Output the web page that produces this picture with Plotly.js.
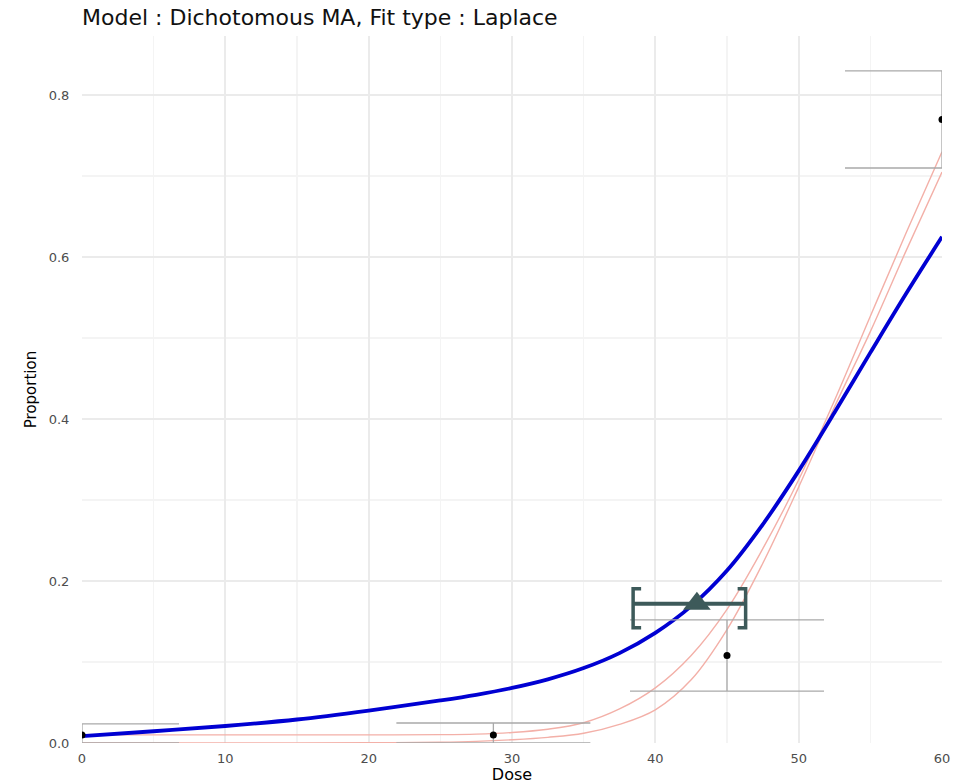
<!DOCTYPE html>
<html>
<head>
<meta charset="utf-8">
<script src="https://cdn.plot.ly/plotly-3.0.1.min.js"></script>
<style>
  html, body { margin: 0; padding: 0; background: #ffffff; }
  #chart { width: 956px; height: 784px; }
</style>
</head>
<body>
<div id="chart"></div>
<script>
// Observed dose groups: proportion responding with confidence limits
const doses    = [0, 28.7, 45, 60];
const observed = [0.010, 0.010, 0.108, 0.770];
const ciLower  = [0.000, 0.000, 0.064, 0.710];
const ciUpper  = [0.0235, 0.0247, 0.152, 0.830];

// Dose grid for the fitted curves
const curveDose = [0, 5, 10, 15, 20, 25, 27.5, 30, 32.5, 35, 37.5, 40, 42.5, 45, 47.5, 50, 52.5, 55, 57.5, 60];

// Model-averaged response
const maResponse = [0.0085, 0.0145, 0.021, 0.029, 0.040, 0.0525, 0.0595, 0.068, 0.0786, 0.0925, 0.111, 0.136, 0.169, 0.213, 0.270, 0.336, 0.408, 0.482, 0.555, 0.625];

// Individual candidate model fits
const modelA = [0.010, 0.010, 0.010, 0.010, 0.010, 0.0103, 0.011, 0.013, 0.017, 0.025, 0.042, 0.068, 0.108, 0.165, 0.240, 0.325, 0.423, 0.527, 0.630, 0.730];
const modelB = [0.000, 0.000, 0.000, 0.000, 0.0003, 0.001, 0.002, 0.004, 0.007, 0.012, 0.023, 0.041, 0.078, 0.140, 0.222, 0.316, 0.415, 0.508, 0.608, 0.705];

// Benchmark dose, its lower/upper bounds, and the response level where it is drawn
const bmd = 42.9;
const bmdl = 38.45;
const bmdu = 46.3;
const bmrLevel = 0.172;

const bmdColor = '#3d5a5a';
const pink = '#f3b0a8';

const errPlus  = observed.map((v, i) => ciUpper[i] - v);
const errMinus = observed.map((v, i) => v - ciLower[i]);

const traces = [
  {
    x: curveDose, y: modelA, type: 'scatter', mode: 'lines',
    line: { color: pink, width: 1.4, shape: 'spline', smoothing: 1 },
    hoverinfo: 'skip'
  },
  {
    x: curveDose, y: modelB, type: 'scatter', mode: 'lines',
    line: { color: pink, width: 1.4, shape: 'spline', smoothing: 1 },
    hoverinfo: 'skip'
  },
  {
    x: curveDose, y: maResponse, type: 'scatter', mode: 'lines',
    line: { color: '#0000d2', width: 3.8, shape: 'spline', smoothing: 1 },
    hoverinfo: 'skip'
  },
  {
    x: doses, y: observed, type: 'scatter', mode: 'markers',
    marker: { color: '#000000', size: 7 },
    error_y: {
      type: 'data', symmetric: false,
      array: errPlus, arrayminus: errMinus,
      color: '#a9a9a9', thickness: 1.3, width: 97
    }
  },
  {
    x: [bmdl, bmdu], y: [bmrLevel, bmrLevel], type: 'scatter', mode: 'lines',
    line: { color: bmdColor, width: 4 }
  },
  {
    x: [bmd], y: [bmrLevel], type: 'scatter', mode: 'markers',
    marker: { symbol: 'triangle-up', size: 24, color: bmdColor }
  }
];

// Square brackets closing the benchmark-dose interval
function bracket(xPos, dir) {
  return {
    type: 'path', xref: 'x', yref: 'y',
    xsizemode: 'pixel', ysizemode: 'pixel',
    xanchor: xPos, yanchor: bmrLevel,
    path: 'M ' + (dir * 8) + ',15 L 0,15 L 0,-24 L ' + (dir * 8) + ',-24',
    line: { color: bmdColor, width: 3.5 }
  };
}

const gridMajor = '#ebebeb';
const gridMinor = '#f4f4f4';

const layout = {
  width: 956, height: 784,
  margin: { l: 82, r: 14, t: 36, b: 41, pad: 0 },
  paper_bgcolor: '#ffffff', plot_bgcolor: '#ffffff',
  showlegend: false,
  font: { family: 'DejaVu Sans', color: '#4d4d4d' },
  title: {
    text: 'Model : Dichotomous MA, Fit type : Laplace',
    font: { family: 'DejaVu Sans', size: 22, color: '#111111' },
    xref: 'paper', x: 0, xanchor: 'left',
    yref: 'container', y: 1 - 17 / 784, yanchor: 'middle'
  },
  xaxis: {
    range: [0, 60], tick0: 0, dtick: 10,
    showgrid: true, gridcolor: gridMajor, gridwidth: 1.8,
    minor: { dtick: 5, showgrid: true, gridcolor: gridMinor, gridwidth: 1.3 },
    zeroline: false, showline: false,
    ticks: 'outside', ticklen: 3, tickcolor: 'rgba(0,0,0,0)',
    tickfont: { size: 13, color: '#4d4d4d' },
    title: { text: 'Dose', font: { size: 16, color: '#000000' }, standoff: 8 },
    automargin: false, fixedrange: true
  },
  yaxis: {
    range: [0, 0.873], tick0: 0, dtick: 0.2, tickformat: '.1f',
    showgrid: true, gridcolor: gridMajor, gridwidth: 1.8,
    minor: { dtick: 0.1, showgrid: true, gridcolor: gridMinor, gridwidth: 1.3 },
    zeroline: false, showline: false,
    ticks: 'outside', ticklen: 9, tickcolor: 'rgba(0,0,0,0)',
    tickfont: { size: 13, color: '#4d4d4d' },
    title: { text: 'Proportion', font: { size: 15, color: '#000000' }, standoff: 8 },
    automargin: false, fixedrange: true
  },
  shapes: [bracket(bmdl, 1), bracket(bmdu, -1)]
};

Plotly.newPlot('chart', traces, layout, { staticPlot: true, displayModeBar: false });
</script>
</body>
</html>
